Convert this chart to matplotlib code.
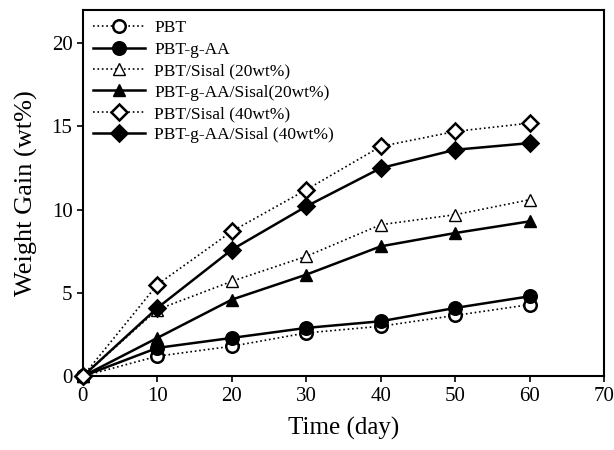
import numpy as np
import matplotlib.pyplot as plt

plt.rcParams['font.family'] = ['Liberation Serif', 'DejaVu Serif']

days = [0, 10, 20, 30, 40, 50, 60]

pbt = [0, 1.2, 1.8, 2.6, 3.0, 3.65, 4.3]
pbt_g_aa = [0, 1.7, 2.3, 2.9, 3.3, 4.1, 4.8]
pbt_sisal20 = [0, 4.0, 5.7, 7.2, 9.1, 9.7, 10.6]
pbt_g_aa_sisal20 = [0, 2.3, 4.6, 6.1, 7.8, 8.6, 9.3]
pbt_sisal40 = [0, 5.5, 8.7, 11.2, 13.8, 14.7, 15.2]
pbt_g_aa_sisal40 = [0, 4.1, 7.6, 10.2, 12.5, 13.6, 14.0]

labels = ['PBT', 'PBT-g-AA', 'PBT/Sisal (20wt%)', 'PBT-g-AA/Sisal(20wt%)',
          'PBT/Sisal (40wt%)', 'PBT-g-AA/Sisal (40wt%)']

fig = plt.figure(figsize=(6.14, 4.5), dpi=100)
ax = fig.add_axes([0.135, 0.164, 0.849, 0.814])

series = [pbt, pbt_g_aa, pbt_sisal20, pbt_g_aa_sisal20, pbt_sisal40, pbt_g_aa_sisal40]
markers = ['o', 'o', '^', '^', 'D', 'D']
sizes = [9, 9, 9, 9, 8, 8]

for i, (ys, m) in enumerate(zip(series, markers)):
    open_marker = (i % 2 == 0)
    ax.plot(days, ys,
            linestyle=':' if open_marker else '-',
            linewidth=1.2 if open_marker else 1.8,
            color='black',
            marker=m, markersize=sizes[i],
            markerfacecolor='white' if open_marker else 'black',
            markeredgecolor='black',
            markeredgewidth=1.8 if m != '^' else 1.0,
            label=labels[i], clip_on=False, zorder=3 + (i == 4))

ax.set_xlim(0, 70)
ax.set_ylim(0, 22)
ax.set_xticks(range(0, 71, 10))
ax.set_yticks(range(0, 21, 5))
ax.tick_params(direction='out', length=4, width=1.2, labelsize=15)
for s in ax.spines.values():
    s.set_linewidth(1.5)

ax.set_xlabel('Time (day)', fontsize=18, labelpad=8)
ax.set_ylabel('Weight Gain (wt%)', fontsize=19, labelpad=10)

ax.legend(loc='upper left', frameon=False, fontsize=12.5, handlelength=3,
          labelspacing=0.3, borderaxespad=0.2, handletextpad=0.5)

fig.savefig('out.png', dpi=100)
